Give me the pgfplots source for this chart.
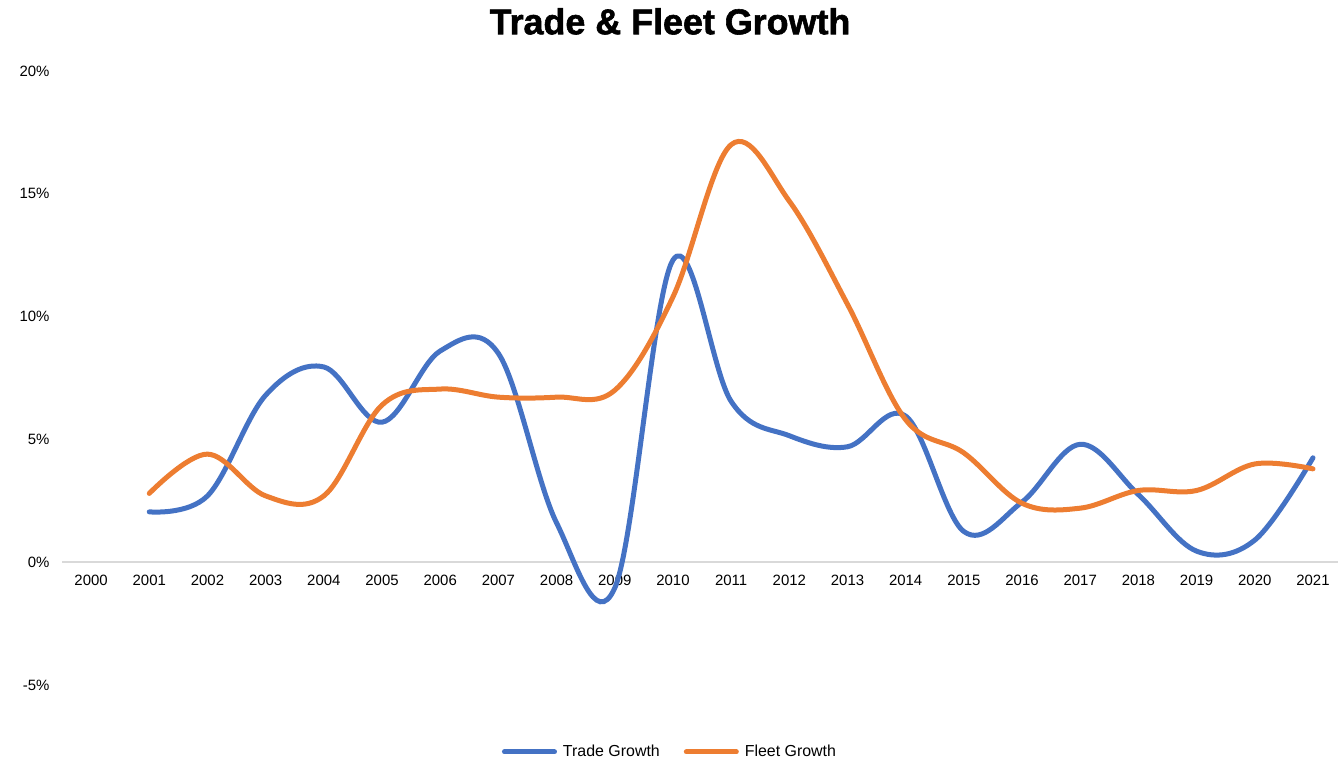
\documentclass[border=0pt]{standalone}
\usepackage{fontspec}
\setmainfont{Liberation Sans}
\newfontfamily\titlefont[BoldFeatures={FakeBold=1.6}]{Liberation Sans}
\usepackage{pgfplots}
\pgfplotsset{compat=1.18}
\definecolor{tradeblue}{HTML}{4472C4}
\definecolor{fleetorange}{HTML}{ED7D31}
\definecolor{axisgray}{HTML}{D9D9D9}
\begin{document}
\begin{tikzpicture}
\useasboundingbox (0,0) rectangle (1339bp,760bp);
\begin{axis}[
  at={(62bp,75bp)}, anchor=south west, scale only axis,
  width=1276bp, height=614bp,
  xmin=-0.5, xmax=21.43, ymin=-5, ymax=20,
  axis x line=middle, axis y line=left,
  x axis line style={-, draw=axisgray, line width=1.5bp},
  y axis line style={draw=none},
  major tick length=0pt,
  xtick={0,...,21},
  xticklabels={2000,2001,2002,2003,2004,2005,2006,2007,2008,2009,2010,2011,2012,2013,2014,2015,2016,2017,2018,2019,2020,2021},
  ytick={-5,0,5,10,15,20},
  yticklabels={-5\%,0\%,5\%,10\%,15\%,20\%},
  x tick label style={font=\fontsize{15}{18}\selectfont, yshift=-9bp},
  y tick label style={font=\fontsize{15}{18}\selectfont, xshift=-9bp},
  title={Trade \& Fleet Growth},
  title style={at={(0.4765,1.071)}, anchor=center, font=\titlefont\fontsize{36}{42}\selectfont\bfseries},
  legend columns=2,
  legend style={at={(0.4765,-0.109)}, anchor=center, draw=none, font=\fontsize{16}{19}\selectfont,
    /tikz/every odd column/.append style={column sep=4bp},
    /tikz/every even column/.append style={column sep=22bp}},
  legend image code/.code={\draw[#1] (0bp,0bp) -- (50bp,0bp);},
  clip=false,
]
\addplot[color=tradeblue, line width=5bp, line cap=round, smooth, tension=0.6] coordinates {
(1,2.05)(2,2.7)(3,6.8)(4,7.95)(5,5.7)(6,8.6)(7,8.5)(8,1.6)(9,-1.05)(10,12.3)(11,6.55)(12,5.15)(13,4.7)(14,5.95)(15,1.25)(16,2.45)(17,4.8)(18,2.75)(19,0.45)(20,0.9)(21,4.25)
};
\addlegendentry{Trade Growth}
\addplot[color=fleetorange, line width=5bp, line cap=round, smooth, tension=0.6] coordinates {
(1,2.8)(2,4.4)(3,2.7)(4,2.7)(5,6.4)(6,7.05)(7,6.72)(8,6.72)(9,7.0)(10,10.8)(11,17.0)(12,14.7)(13,10.5)(14,5.8)(15,4.45)(16,2.4)(17,2.2)(18,2.92)(19,2.92)(20,4.0)(21,3.8)
};
\addlegendentry{Fleet Growth}
\end{axis}
\end{tikzpicture}
\end{document}
